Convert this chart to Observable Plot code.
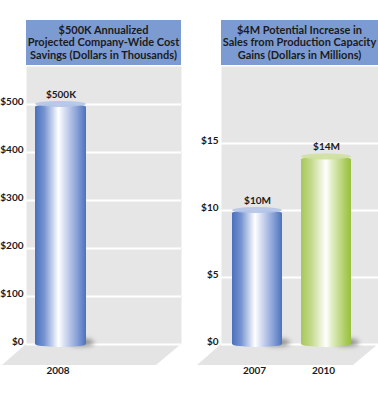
<!DOCTYPE html>
<html><head><meta charset="utf-8">
<script src="https://cdn.jsdelivr.net/npm/d3@7"></script>
<script src="https://cdn.jsdelivr.net/npm/@observablehq/plot@0.6"></script>
<style>
body{margin:0;background:#fff;}
#wrap{position:relative;width:378px;height:400px;overflow:hidden;font-family:Lato,"DejaVu Sans",sans-serif;}
.title{position:absolute;top:20px;height:45px;background:#7d9bd3;color:#1b1b1b;font-weight:bold;font-size:11px;line-height:12.5px;text-align:center;display:flex;align-items:center;justify-content:center;white-space:nowrap;}
.panel{position:absolute;top:0;}
</style></head><body><div id="wrap"></div>
<script>
// ---- data ----
const leftTitle = ["$500K Annualized", "Projected Company-Wide Cost", "Savings (Dollars in Thousands)"];
const leftCategories = ["2008"];
const leftValues = [500];
const leftLabels = ["$500K"];
const leftTicks = [0, 100, 200, 300, 400, 500];
const leftTickLabels = ["$0", "$100", "$200", "$300", "$400", "$500"];

const rightTitle = ["$4M Potential Increase in", "Sales from Production Capacity", "Gains (Dollars in Millions)"];
const rightCategories = ["2007", "2010"];
const rightValues = [10, 14];
const rightLabels = ["$10M", "$14M"];
const rightTicks = [0, 5, 10, 15];
const rightTickLabels = ["$0", "$5", "$10", "$15"];

const gradients = {
  blue: [["0%", "#4a70bd"], ["18%", "#7693d0"], ["46%", "#ffffff"], ["58%", "#d6def2"], ["82%", "#8aa2d8"], ["100%", "#4c72be"]],
  green: [["0%", "#a7c75a"], ["20%", "#c2d98a"], ["50%", "#ffffff"], ["62%", "#e0edc4"], ["85%", "#b3d06a"], ["100%", "#98bf3c"]]
};
const capColors = {blue: "#b4c4e8", green: "#cfe09d"};

function panel({id, cats, vals, labels, ticks, tickLabels, ymax, xRange, padInner, colors, width, marginLeft, marginRight}) {
  const data = cats.map((c, i) => ({cat: c, value: vals[i], label: labels[i], color: colors[i]}));
  const tickData = ticks.map((t, i) => ({v: t, label: tickLabels[i]}));
  const defs = () => {
    const d = d3.create("svg:defs");
    for (const [name, stops] of Object.entries(gradients)) {
      const g = d.append("linearGradient").attr("id", id + name).attr("x1", "0").attr("x2", "1").attr("y1", "0").attr("y2", "0");
      for (const [o, c] of stops) g.append("stop").attr("offset", o).attr("stop-color", c);
    }
    return d.node();
  };
  const floor = (index, scales, values, dim) => {
    const {width: W, height: H, marginLeft: L, marginRight: R, marginBottom: B} = dim;
    const y0 = H - B;
    const pts = [[L, y0], [W - R, y0], [W - R - 25, y0 + 21], [L - 24, y0 + 21]];
    return d3.create("svg:polygon").attr("points", pts.map(p => p.join(",")).join(" ")).attr("fill", "#e4e4e4").node();
  };
  const marks = [
    defs,
    floor,
    Plot.frame({fill: "#e6e6e6", stroke: null}),
    Plot.ruleY(ticks, {stroke: "#ffffff", strokeWidth: 2}),
    Plot.text(tickData, {y: "v", text: "label", frameAnchor: "left", textAnchor: "end", dx: -3, dy: -3, fontWeight: "bold", fontSize: 10, fill: "#1b1b1b"})
  ];
  for (const d of data) {
    marks.push(Plot.barY([d], {x: "cat", y1: 0, y2: 0, insetTop: -5, insetBottom: -2, insetLeft: 26, dx: 8, fill: "#8a8a8a", rx: 10, ry: 4, imageFilter: "blur(2.5px)"}));
    marks.push(Plot.barY([d], {x: "cat", y: "value", insetBottom: -3, rx: 25.5, ry: 3, fill: `url(#${id}${d.color})`}));
    marks.push(Plot.barY([d], {x: "cat", y1: "value", y2: "value", insetTop: -3, insetBottom: -3, rx: 25.5, ry: 3, fill: capColors[d.color], fillOpacity: 0.9}));
  }
  marks.push(Plot.text(data, {x: "cat", y: "value", text: "label", dy: -10, fontWeight: "bold", fontSize: 10, fill: "#1b1b1b"}));
  marks.push(Plot.text(data, {x: "cat", frameAnchor: "bottom", text: "cat", dy: 29, dx: -3, fontWeight: "bold", fontSize: 10, fill: "#1b1b1b"}));
  return Plot.plot({
    width, height: 400, marginTop: 66, marginBottom: 56, marginLeft, marginRight,
    style: {fontFamily: 'Lato, "DejaVu Sans", sans-serif', background: "transparent", overflow: "visible"},
    x: {type: "band", domain: cats, range: xRange, paddingInner: padInner, paddingOuter: 0, axis: null},
    y: {domain: [0, ymax], axis: null},
    marks
  });
}

const wrap = document.getElementById("wrap");
function addTitle(lines, left, w) {
  const t = document.createElement("div");
  t.className = "title";
  t.style.left = left + "px";
  t.style.width = w + "px";
  t.innerHTML = "<div>" + lines.map(l => l.replace(/&/g, "&amp;")).join("<br>") + "</div>";
  wrap.appendChild(t);
}

const left = panel({id: "L", cats: leftCategories, vals: leftValues, labels: leftLabels, ticks: leftTicks, tickLabels: leftTickLabels,
  ymax: 579, xRange: [35, 86], padInner: 0, colors: ["blue"], width: 189, marginLeft: 26, marginRight: 8});
left.classList.add("panel"); left.style.left = "0px";
wrap.appendChild(left);

const right = panel({id: "R", cats: rightCategories, vals: rightValues, labels: rightLabels, ticks: rightTicks, tickLabels: rightTickLabels,
  ymax: 20.75, xRange: [42, 163], padInner: 0.27, colors: ["blue", "green"], width: 189, marginLeft: 32, marginRight: 0});
right.classList.add("panel"); right.style.left = "189px";
wrap.appendChild(right);

addTitle(leftTitle, 26, 155);
addTitle(rightTitle, 221, 157);
</script></body></html>
